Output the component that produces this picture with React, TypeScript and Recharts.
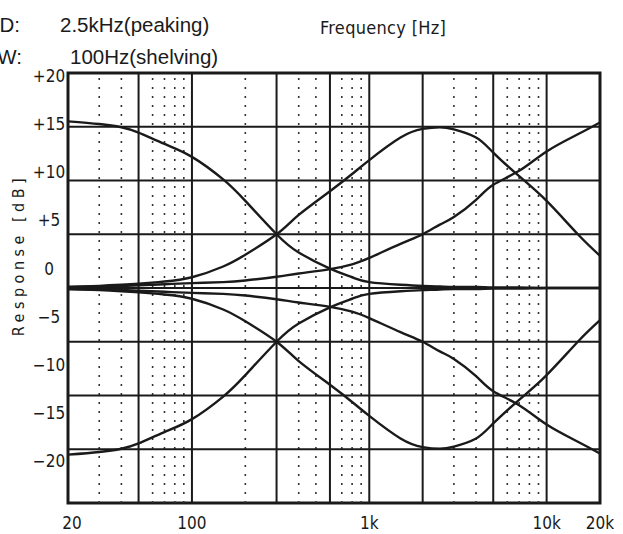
import React from 'react';
import { LineChart, Line, XAxis, YAxis, ReferenceLine, ReferenceArea } from 'recharts';

// frequency points (Hz) the curves were read at
const FREQS = [20, 30, 40, 50, 70, 100, 150, 200, 300, 400, 600, 800, 1000, 1500, 2000, 2500, 3000, 4000, 5000, 7000, 10000, 15000, 20000];

// response in dB
const LOW_SHELF_BOOST = [15.5, 15.25, 14.95, 14.45, 13.4, 12.2, 10.1, 8.1, 5.0, 3.3, 1.8, 1.0, 0.55, 0.3, 0.2, 0.15, 0.1, 0.1, 0.05, 0.05, 0, 0, 0];
const LOW_SHELF_CUT = [-15.5, -15.25, -14.95, -14.45, -13.4, -12.2, -10.1, -8.1, -5.0, -3.3, -1.8, -1.0, -0.55, -0.3, -0.2, -0.15, -0.1, -0.1, -0.05, -0.05, 0, 0, 0];
const PEAK_BOOST = [0.1, 0.2, 0.3, 0.4, 0.6, 1.0, 2.0, 3.1, 5.0, 6.8, 9.0, 10.6, 11.9, 14.0, 14.8, 14.95, 14.75, 14.0, 12.6, 10.4, 8.1, 5.0, 3.0];
const PEAK_CUT = [-0.1, -0.2, -0.3, -0.4, -0.6, -1.0, -2.0, -3.1, -5.0, -6.8, -9.0, -10.6, -11.9, -14.0, -14.8, -14.95, -14.75, -14.0, -12.6, -10.4, -8.1, -5.0, -3.0];
const HIGH_SHELF_BOOST = [0.1, 0.15, 0.2, 0.25, 0.35, 0.45, 0.55, 0.7, 1.05, 1.35, 1.75, 2.2, 2.8, 4.1, 5.0, 5.9, 6.6, 8.2, 9.6, 10.9, 12.7, 14.3, 15.4];
const HIGH_SHELF_CUT = [-0.1, -0.15, -0.2, -0.25, -0.35, -0.45, -0.55, -0.7, -1.05, -1.35, -1.75, -2.2, -2.8, -4.1, -5.0, -5.9, -6.6, -8.2, -9.6, -10.9, -12.7, -14.3, -15.4];

const X_TICKS = [20, 100, 1000, 10000, 20000];
const Y_TICKS = [-20, -15, -10, -5, 0, 5, 10, 15, 20];
const H_LINES = [-15, -10, -5, 0, 5, 10, 15];
const SOLID_V = [50, 100, 300, 600, 1000, 2000, 5000, 10000];
const DOTTED_V = [30, 40, 60, 70, 80, 90, 200, 400, 500, 700, 800, 900, 3000, 4000, 6000, 7000, 8000, 9000];

const SERIES: [string, number[]][] = [
  ['lsb', LOW_SHELF_BOOST],
  ['lsc', LOW_SHELF_CUT],
  ['pkb', PEAK_BOOST],
  ['pkc', PEAK_CUT],
  ['hsb', HIGH_SHELF_BOOST],
  ['hsc', HIGH_SHELF_CUT],
];

const data = FREQS.map((f, i) => {
  const row: Record<string, number> = { f };
  SERIES.forEach(([key, vals]) => {
    row[key] = vals[i];
  });
  return row;
});

const INK = '#1a1a1a';
const COND = "'DejaVu Sans Condensed', 'DejaVu Sans', sans-serif";
const Y_LABEL_X = 49; // labels are centred in the gutter left of the frame

const fmtFreq = (v: number) => (v >= 1000 ? `${v / 1000}k` : `${v}`);
const fmtDb = (v: number) => (v > 0 ? `+${v}` : v < 0 ? `\u2212${-v}` : '0');

const XTick = (props: any) => {
  const { x, y, payload } = props;
  return (
    <text x={x + (payload.value === 20 ? 4 : 0)} y={y} dy="0.36em" textAnchor="middle"
      fontFamily={COND} fontStretch="condensed" fontSize={17} fill={INK}>
      {fmtFreq(payload.value)}
    </text>
  );
};

const YTick = (props: any) => {
  const { y, payload } = props;
  return (
    <text x={Y_LABEL_X} y={y} dy="0.36em" textAnchor="middle"
      fontFamily={COND} fontStretch="condensed" fontSize={17} fill={INK}>
      {fmtDb(payload.value)}
    </text>
  );
};

export default function App() {
  return (
    <div style={{ position: 'absolute', left: 0, top: 0, width: 623, height: 534, background: '#fff' }}>
      <LineChart width={623} height={534} data={data} margin={{ top: 73, right: 23, bottom: 0, left: 8 }}>
        <XAxis dataKey="f" type="number" scale="log" domain={[20, 20000]} allowDataOverflow
          ticks={X_TICKS} tick={<XTick />} tickLine={false} axisLine={false}
          tickSize={0} tickMargin={20} height={31} interval={0} />
        <YAxis yAxisId="lab" orientation="left" type="number" domain={[-24.36, 20.31]} allowDataOverflow
          ticks={Y_TICKS} tick={<YTick />} tickLine={false} axisLine={false}
          tickSize={0} tickMargin={19} width={60} interval={0} />
        <YAxis yAxisId="grid" type="number" domain={[-20, 20]} allowDataOverflow hide />

        {DOTTED_V.map((f) => (
          <ReferenceLine key={`d${f}`} yAxisId="grid" x={f} stroke="#333" strokeWidth={1.6} strokeDasharray="2 7" />
        ))}
        {SOLID_V.map((f) => (
          <ReferenceLine key={`s${f}`} yAxisId="grid" x={f} stroke={INK} strokeWidth={2} />
        ))}
        {H_LINES.map((v) => (
          <ReferenceLine key={`h${v}`} yAxisId="grid" y={v} stroke={INK} strokeWidth={2} />
        ))}

        {SERIES.map(([key]) => (
          <Line key={key} yAxisId="grid" dataKey={key} type="natural" stroke={INK} strokeWidth={2.4}
            dot={false} activeDot={false} isAnimationActive={false} />
        ))}

        <ReferenceArea yAxisId="grid" x1={20} x2={20000} y1={-20} y2={20} fill="none" fillOpacity={0}
          stroke={INK} strokeWidth={3} />
      </LineChart>

      <svg width={623} height={534} style={{ position: 'absolute', left: 0, top: 0, pointerEvents: 'none' }}>
        <g fontFamily="'Liberation Sans', Arial, sans-serif" fontSize={20.5} fill={INK}>
          <text x={20} y={32} textAnchor="end">MID:</text>
          <text x={60} y={32}>2.5kHz(peaking)</text>
          <text x={22} y={64} textAnchor="end">LOW:</text>
          <text x={70} y={64}>100Hz(shelving)</text>
        </g>
        <text x={320} y={34} fontFamily={COND} fontStretch="condensed" fontSize={18} letterSpacing={0.3} fill={INK}>
          Frequency [Hz]
        </text>
        <text transform="translate(24,255) rotate(-90)" textAnchor="middle" fontFamily={COND}
          fontStretch="condensed" fontSize={16} letterSpacing={4.5} fill={INK}>
          Response [dB]
        </text>
      </svg>
    </div>
  );
}
